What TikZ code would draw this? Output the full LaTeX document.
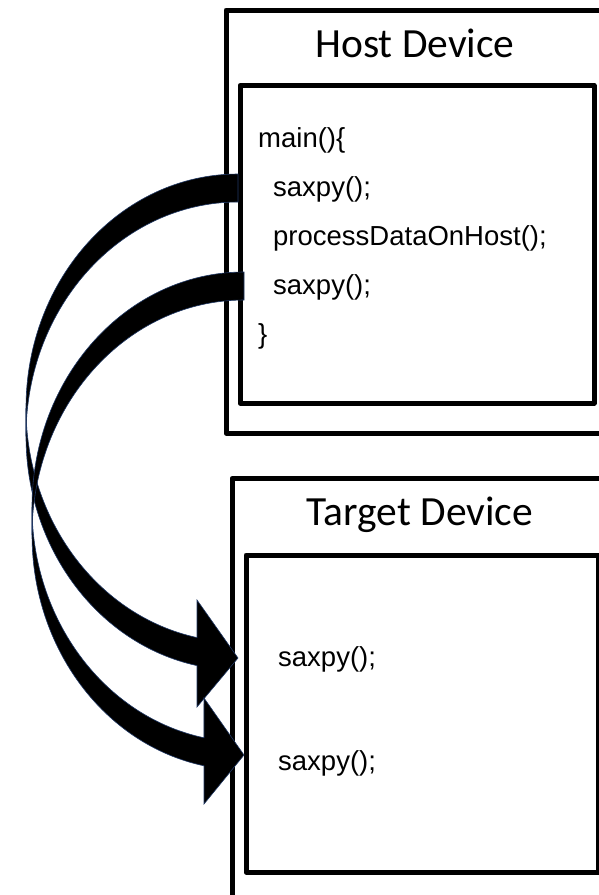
\documentclass[tikz,border=0pt]{standalone}
\usepackage{fontspec}
\setmainfont{Carlito}
\newfontfamily\codefont{Liberation Sans}
\begin{document}
\begin{tikzpicture}[x=1pt, y=-1pt,
  frame/.style={draw=black, line width=5pt, line join=round, fill=white,
    inner sep=0pt, anchor=north west},
  title/.style={font=\fontsize{41.5}{48}\selectfont, anchor=base, inner sep=0pt},
  code/.style={font=\codefont\fontsize{27.5}{32}\selectfont, anchor=base west, inner sep=0pt},
  bandfill/.style={fill=black, draw={rgb,255:red,32;green,56;blue,100}, line width=0.6pt, line join=miter}
]
\useasboundingbox (0,0) rectangle (599,895);

% host side
\node[frame, minimum width=386pt, minimum height=423pt] (hostouter) at (223.5,7.5) {};
\node[frame, minimum width=354pt, minimum height=317.5pt] (hostinner) at (237.5,83) {};
\node[title] (hosttitle) at (415,57) {Host Device};
\node[code] (hmain) at (258,147) {main()\{};
\node[code] (hcall1) at (273,196) {saxpy();};
\node[code] (hproc) at (273,245) {processDataOnHost();};
\node[code] (hcall2) at (273,294) {saxpy();};
\node[code] (hend) at (258,343.5) {\}};

% target side
\node[frame, minimum width=380pt, minimum height=440pt] (tgtouter) at (229.5,476) {};
\node[frame, minimum width=352.5pt, minimum height=317pt] (tgtinner) at (243.5,552.5) {};
\node[title] (tgttitle) at (420,525) {Target Device};
\node[code] (tcall1) at (278,666) {saxpy();};
\node[code] (tcall2) at (278,770) {saxpy();};

% curved block arrow: first call
\fill[bandfill] (238,174) arc[start angle=270, end angle=180, x radius=212, y radius=234]
  -- (26,436) arc[start angle=180, end angle=270, x radius=212, y radius=234] -- cycle;
\fill[bandfill] (26,408) arc[start angle=180, end angle=101.15, x radius=212, y radius=234]
  -- (197,600) -- (238,658) -- (197,707) -- (197,665.6)
  arc[start angle=101.15, end angle=180, x radius=212, y radius=234] -- cycle;

% curved block arrow: second call
\fill[bandfill] (244,272) arc[start angle=270, end angle=180, x radius=212, y radius=235]
  -- (32,535) arc[start angle=180, end angle=270, x radius=212, y radius=235] -- cycle;
\fill[bandfill] (32,507) arc[start angle=180, end angle=100.88, x radius=212, y radius=235]
  -- (204,698) -- (244,755) -- (204,804) -- (204,765.8)
  arc[start angle=100.88, end angle=180, x radius=212, y radius=235] -- cycle;
\end{tikzpicture}
\end{document}
